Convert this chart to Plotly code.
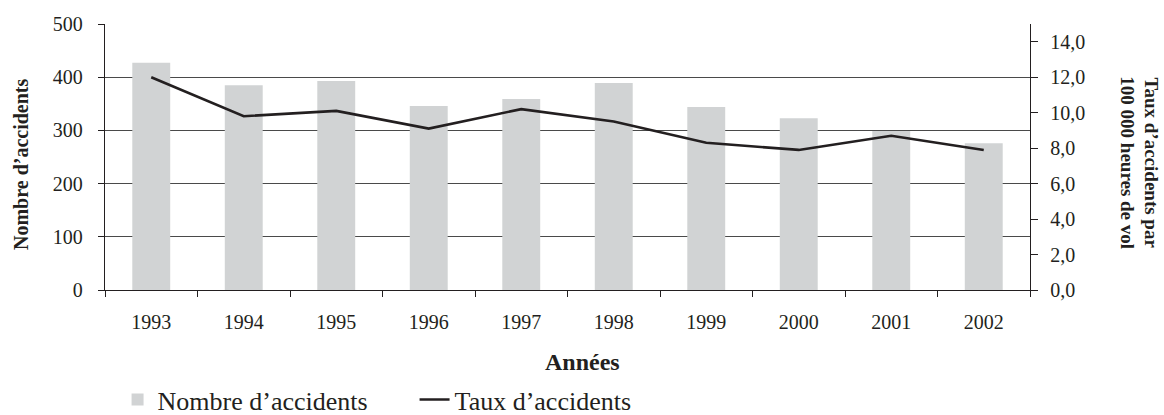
import plotly.graph_objects as go

years = ["1993", "1994", "1995", "1996", "1997", "1998", "1999", "2000", "2001", "2002"]
nombre_accidents = [427, 385, 393, 346, 359, 389, 344, 323, 299, 276]
taux_accidents = [12.0, 9.8, 10.1, 9.1, 10.2, 9.5, 8.3, 7.9, 8.7, 7.9]
left_ticks = [0, 100, 200, 300, 400, 500]
right_ticks = [0, 2, 4, 6, 8, 10, 12, 14]

FONT = "Liberation Serif"
INK = "#231f20"

fig = go.Figure()
fig.add_trace(go.Bar(
    x=years, y=nombre_accidents, name="Nombre d\u2019accidents",
    marker=dict(color="#d1d3d4", line=dict(width=0)), yaxis="y",
))
fig.add_trace(go.Scatter(
    x=years, y=taux_accidents, name="Taux d\u2019accidents", mode="lines",
    line=dict(color=INK, width=2.6), yaxis="y2",
))

fig.update_layout(
    width=1164, height=415,
    margin=dict(l=105, r=134, t=24, b=125, autoexpand=False),
    paper_bgcolor="white", plot_bgcolor="white",
    separators=", ",
    font=dict(family=FONT, color=INK, size=20),
    bargap=0.59,
    showlegend=True,
    legend=dict(
        orientation="h", xref="container", yref="container",
        x=0.101, xanchor="left", y=0.037, yanchor="middle",
        font=dict(family=FONT, size=26, color=INK),
        entrywidth=252, entrywidthmode="pixels",
        bgcolor="rgba(0,0,0,0)", traceorder="normal",
    ),
    xaxis=dict(
        type="category", showline=True, linecolor=INK, linewidth=1.3,
        ticks="outside", tickson="boundaries", ticklen=6, tickcolor=INK, tickwidth=1.2,
        showgrid=False, ticklabelstandoff=14, automargin=False,
        tickfont=dict(family=FONT, size=20, color=INK),
    ),
    yaxis=dict(
        range=[0, 500], tickvals=left_ticks, showline=True, linecolor=INK, linewidth=1.3,
        ticks="outside", ticklen=6, tickcolor=INK, tickwidth=1.2,
        showgrid=True, gridcolor="#4a4a4a", gridwidth=1.1, zeroline=False,
        ticklabelstandoff=11, automargin=False,
        tickfont=dict(family=FONT, size=20, color=INK),
    ),
    yaxis2=dict(
        range=[0, 15], tickvals=right_ticks, tickformat=".1f", overlaying="y", side="right",
        showline=True, linecolor=INK, linewidth=1.3,
        ticks="outside", ticklen=7, tickcolor=INK, tickwidth=1.2,
        showgrid=False, zeroline=False, ticklabelstandoff=8, automargin=False,
        tickfont=dict(family=FONT, size=20, color=INK),
    ),
    annotations=[
        dict(text="<b>Nombre d\u2019accidents</b>", xref="paper", yref="paper",
             x=0, y=0.47, xshift=-84, textangle=-90, showarrow=False,
             xanchor="center", yanchor="middle", font=dict(family=FONT, size=20, color=INK)),
        dict(text="<b>Taux d\u2019accidents par<br>100 000 heures de vol</b>", xref="paper", yref="paper",
             x=1, y=0.48, xshift=109, textangle=90, showarrow=False,
             xanchor="center", yanchor="middle", font=dict(family=FONT, size=19, color=INK)),
        dict(text="<b>Ann\u00e9es</b>", xref="paper", yref="paper",
             x=0.516, y=-0.27, showarrow=False,
             xanchor="center", yanchor="middle", font=dict(family=FONT, size=24, color=INK)),
    ],
)

fig.write_html(
    "out.html",
    config={"displayModeBar": False},
    post_script="document.body.style.margin='0';document.body.style.overflow='hidden';",
)
